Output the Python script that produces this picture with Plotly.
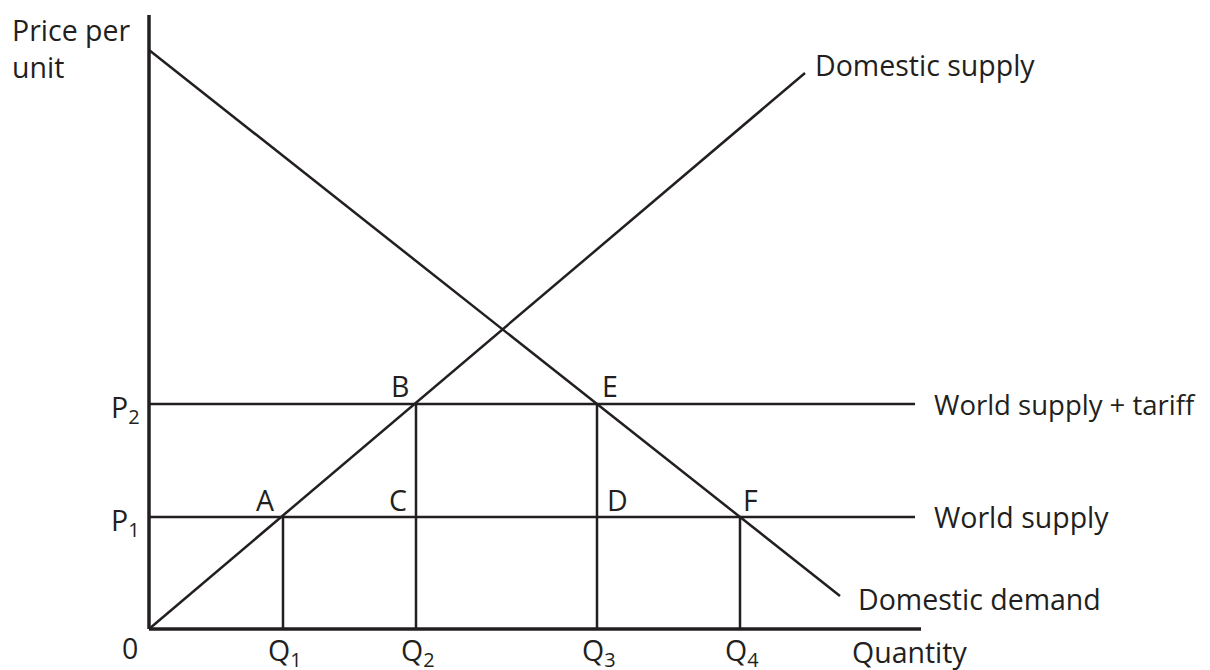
import plotly.graph_objects as go

# quantities and prices in chart units (origin at 0,0)
q_labels = ["Q<sub>1</sub>", "Q<sub>2</sub>", "Q<sub>3</sub>", "Q<sub>4</sub>"]
q_values = [13.4, 26.7, 44.8, 59.1]
p_labels = ["P<sub>1</sub>", "P<sub>2</sub>"]
p_values = [11.2, 22.5]

supply_q = [0, 65.6]
supply_p = [0, 55.6]
demand_q = [0, 69.1]
demand_p = [57.9, 3.3]

world_end = 76.6
x_axis_end = 77.2
y_axis_end = 61.4

# which price each vertical drop line comes down from (index into p_values)
drop_from = [0, 1, 1, 0]

# labelled points: (name, q index, p index)
point_names = ["A", "C", "D", "F", "B", "E"]
point_q_idx = [0, 1, 2, 3, 1, 2]
point_p_idx = [0, 0, 0, 0, 1, 1]

ink = "#231f20"
font = dict(family="Open Sans", size=28.5, color=ink)

fig = go.Figure()

def add_line(xs, ys, width=2.5):
    fig.add_trace(go.Scatter(x=xs, y=ys, mode="lines",
                             line=dict(color=ink, width=width),
                             hoverinfo="skip", showlegend=False))

# axes
add_line([0, x_axis_end], [0, 0], width=3.5)
add_line([0, 0], [0, y_axis_end], width=3.5)

# world supply lines
for p in p_values:
    add_line([0, world_end], [p, p])

# vertical drops to quantity axis
for q, i in zip(q_values, drop_from):
    add_line([q, q], [0, p_values[i]])

# domestic supply and demand
add_line(supply_q, supply_p)
add_line(demand_q, demand_p)

ann = []
# point letters
offsets = {"A": (-18, 17), "C": (-18, 17), "D": (20, 17), "F": (10, 17),
           "B": (-16, 18), "E": (13, 18)}
for name, qi, pi in zip(point_names, point_q_idx, point_p_idx):
    dx, dy = offsets[name]
    ann.append(dict(x=q_values[qi], y=p_values[pi], text=name, xshift=dx, yshift=dy))

# quantity labels
for lab, q in zip(q_labels, q_values):
    ann.append(dict(x=q, y=0, text=lab, xshift=2, yshift=-23))
ann.append(dict(x=0, y=0, text="0", xshift=-19, yshift=-19))

# price labels
for lab, p in zip(p_labels, p_values):
    ann.append(dict(x=0, y=p, text=lab, xshift=-24, yshift=-5))

# curve names
ann.append(dict(x=supply_q[1], y=supply_p[1], text="Domestic supply",
                xanchor="left", xshift=8, yshift=8))
ann.append(dict(x=demand_q[1], y=demand_p[1], text="Domestic demand",
                xanchor="left", xshift=16, yshift=-3))
ann.append(dict(x=world_end, y=p_values[1], text="World supply + tariff",
                xanchor="left", xshift=17, yshift=0,
                font=dict(family="Open Sans", size=27.5, color=ink)))
ann.append(dict(x=world_end, y=p_values[0], text="World supply",
                xanchor="left", xshift=17, yshift=0))
ann.append(dict(x=x_axis_end, y=0, text="Quantity",
                xanchor="left", xshift=-71, yshift=-23))
ann.append(dict(x=0, y=y_axis_end, text="Price per<br>unit",
                xanchor="left", align="left", xshift=-139, yshift=-33))

for a in ann:
    a.update(xref="x", yref="y", showarrow=False)
    a.setdefault("font", font)
    a.setdefault("xanchor", "center")
    a.setdefault("yanchor", "middle")

# the page adds an 8px body margin, so the figure is 8px smaller than the window
fig.update_layout(
    width=1202, height=662,
    margin=dict(l=131, r=281, t=1, b=31),
    paper_bgcolor="white", plot_bgcolor="white",
    xaxis=dict(range=[-1, 78], visible=False, fixedrange=True),
    yaxis=dict(range=[-1, 62], visible=False, fixedrange=True),
    annotations=ann,
)

fig.write_html("out.html")
